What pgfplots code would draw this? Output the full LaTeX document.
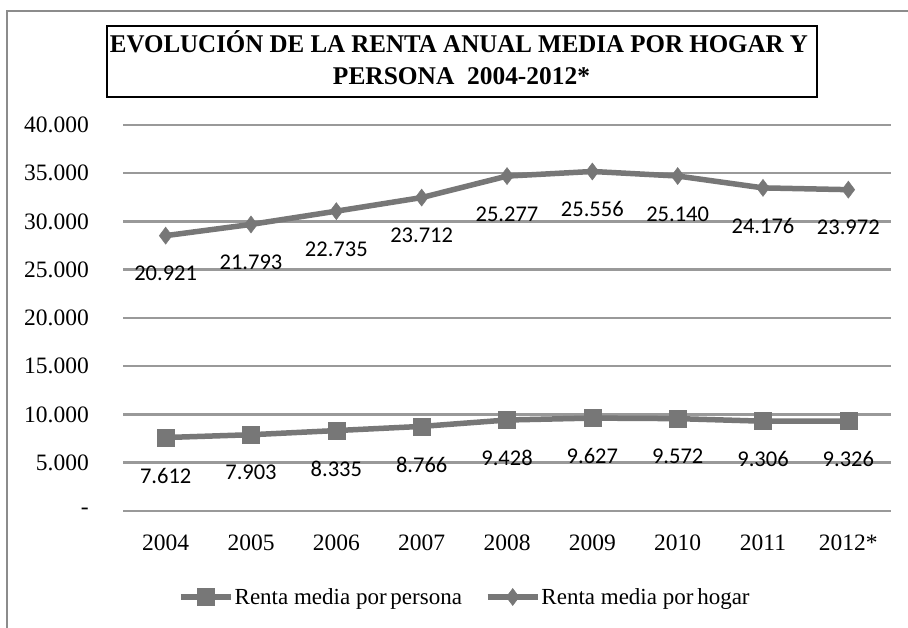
\documentclass[border=0pt]{standalone}
\usepackage{pgfplots}
\pgfplotsset{compat=1.18}
\usepackage{pgfplotstable}
\usepackage{graphicx}
\usepackage{fontspec}
\setmainfont{Liberation Serif}
\newfontfamily\calibri{Carlito}
\definecolor{linegray}{HTML}{777777}
\definecolor{gridgray}{HTML}{999999}
\definecolor{framegray}{HTML}{8C8C8C}

% p = Renta media por persona, h = Renta media por hogar (stacked line chart)
\pgfplotstableread{
x p h
0 7612 20921
1 7903 21793
2 8335 22735
3 8766 23712
4 9428 25277
5 9627 25556
6 9572 25140
7 9306 24176
8 9326 23972
}\rentas

\begin{document}
\begin{tikzpicture}[x=1bp,y=1bp]
\useasboundingbox (0,0) rectangle (908,628);
\fill[white] (0,0) rectangle (908,628);
\draw[framegray, line width=2.2bp] (7,0) -- (7,617) -- (908,617);
\begin{axis}[
  at={(123bp,117bp)}, anchor=south west,
  scale only axis, width=768bp, height=386bp,
  xmin=-0.5, xmax=8.5, ymin=0, ymax=40000,
  axis line style={draw=none},
  major tick length=0pt,
  scaled y ticks=false,
  xtick={0,...,8},
  xticklabels={2004,2005,2006,2007,2008,2009,2010,2011,2012*},
  ytick={0,5000,10000,15000,20000,25000,30000,35000,40000},
  yticklabels={{-\hspace{12bp}},5.000,10.000,15.000,20.000,25.000,30.000,35.000,40.000},
  ymajorgrids, grid style={gridgray, line width=2.5bp},
  clip=false,
  xticklabel style={anchor=center, inner sep=0pt, yshift=-32bp, font=\fontsize{23.5bp}{27bp}\selectfont},
  yticklabel style={anchor=east, inner sep=0pt, xshift=-34bp, font=\fontsize{23.5bp}{27bp}\selectfont},
  point meta=explicit,
  nodes near coords={\pgfmathprintnumber[fixed,precision=0,1000 sep={.},assume math mode=true]{\pgfplotspointmeta}},
  every node near coord/.style={anchor=center, yshift=-38bp, inner sep=0pt, font=\calibri\fontsize{22.5bp}{26bp}\selectfont, text=black},
  legend columns=2,
  legend style={at={(axis description cs:0.0716,-0.2228)}, anchor=west, draw=none, fill=none,
    inner sep=0pt, font=\fontsize{23bp}{27bp}\selectfont,
    nodes={inner sep=1bp},
    /tikz/every even column/.append style={column sep=22bp}},
  legend image code/.code={\draw[mark repeat=2, mark phase=2, #1] plot coordinates {(0bp,0bp) (25bp,0bp) (50bp,0bp)};},
]
\addplot[linegray, line width=5.5bp, mark=square*, mark size=8.5bp, mark options={solid, line width=0.5bp}]
  table[x=x, y=p, meta=p] {\rentas};
\addlegendentry{Renta media por\hspace{-2bp} persona}
\addplot[linegray, line width=5.5bp, mark=diamond*, mark size=8.5bp, mark options={solid, line width=0.5bp}]
  table[x=x, y expr=\thisrow{p}+\thisrow{h}, meta=h] {\rentas};
\addlegendentry{Renta media por\hspace{-2bp} hogar}
\end{axis}
\node[draw=black, line width=2bp, minimum width=710bp, minimum height=71bp, inner sep=0pt] at (462,566.5) {};
\node[inner sep=0pt, anchor=base] at (459,575) {\resizebox{698bp}{\height}{\fontsize{25.5bp}{29bp}\selectfont\bfseries EVOLUCIÓN DE LA RENTA ANUAL MEDIA POR HOGAR Y}};
\node[inner sep=0pt, anchor=base] at (461.5,543) {\resizebox{257bp}{\height}{\fontsize{25.5bp}{29bp}\selectfont\bfseries PERSONA\ \ 2004-2012*}};
\end{tikzpicture}
\end{document}
